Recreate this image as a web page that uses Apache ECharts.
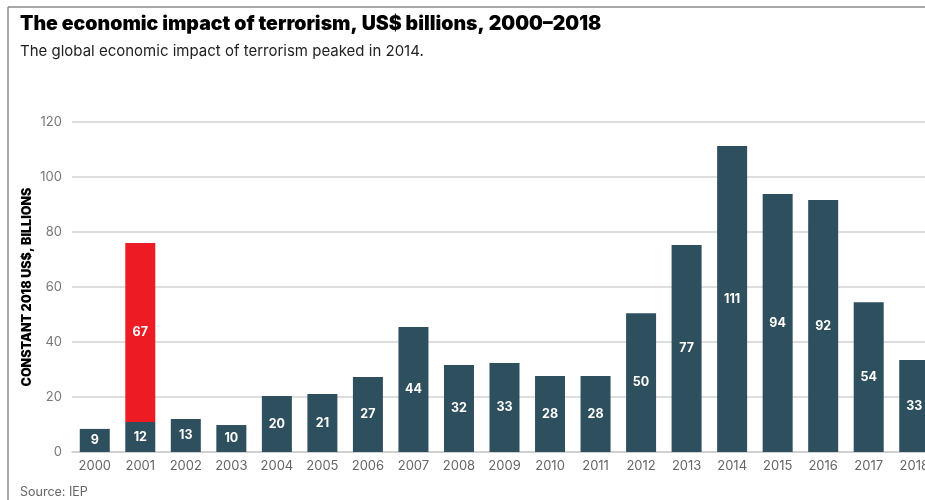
<!DOCTYPE html>
<html>
<head>
<meta charset="utf-8">
<script src="https://cdn.jsdelivr.net/npm/echarts@6/dist/echarts.min.js"></script>
<style>
  html, body { margin: 0; padding: 0; background: #fff; overflow: hidden; }
  #chart { width: 937px; height: 500px; }
</style>
</head>
<body>
<div id="chart"></div>
<script>
// years on the x axis
const years = ['2000','2001','2002','2003','2004','2005','2006','2007','2008','2009',
  '2010','2011','2012','2013','2014','2015','2016','2017','2018'];
// bar heights
const baseValues = [8.4, 10.9, 12, 9.8, 20.4, 21.1, 27.3, 45.5, 31.6, 32.4,
  27.6, 27.6, 50.5, 75.3, 111.3, 93.8, 91.6, 54.5, 33.5];
// printed labels on the bars
const baseLabels = [9, 12, 13, 10, 20, 21, 27, 44, 32, 33, 28, 28, 50, 77, 111, 94, 92, 54, 33];
// 2001 extra (September 11) segment
const extraValues = [null, 65.1, null, null, null, null, null, null, null, null,
  null, null, null, null, null, null, null, null, null];
const extraLabels = ['', 67, '', '', '', '', '', '', '', '', '', '', '', '', '', '', '', '', ''];
const yTicks = { min: 0, max: 120, interval: 20 };

let myChart = echarts.init(document.getElementById('chart'));
let labelStyle = {
  show: true,
  position: 'inside',
  color: '#ffffff',
  fontFamily: 'Inter',
  fontWeight: 'bold',
  fontSize: 12.5
};
let option = {
  animation: false,
  backgroundColor: '#ffffff',
  graphic: [
    { type: 'line', shape: { x1: 8, y1: 7, x2: 937, y2: 7 }, style: { stroke: '#8a8a8a', lineWidth: 1.5 } },
    { type: 'line', shape: { x1: 8, y1: 7, x2: 8, y2: 500 }, style: { stroke: '#8a8a8a', lineWidth: 1.5 } },
    { type: 'text', left: 20, top: 14, style: {
        text: 'The economic impact of terrorism, US$ billions, 2000–2018',
        fontFamily: 'Inter', fontWeight: 900, fontSize: 19.5, fill: '#000' } },
    { type: 'text', left: 20, top: 44, style: {
        text: 'The global economic impact of terrorism peaked in 2014.',
        fontFamily: 'Inter', fontSize: 15, fill: '#222' } },
    { type: 'text', left: 20, top: 486, style: {
        text: 'Source: IEP', fontFamily: 'Inter', fontSize: 12.5, fill: '#666' } }
  ],
  grid: {
    left: 72,
    right: 0,
    top: 122,
    bottom: 48
  },
  xAxis: {
    type: 'category',
    data: years,
    axisTick: { show: false },
    axisLine: { lineStyle: { color: '#cccccc', width: 1.5 } },
    axisLabel: {
      color: '#666',
      fontFamily: 'Inter',
      fontSize: 13,
      margin: 8,
      interval: 0
    }
  },
  yAxis: {
    type: 'value',
    min: yTicks.min,
    max: yTicks.max,
    interval: yTicks.interval,
    name: 'CONSTANT 2018 US$, BILLIONS',
    nameLocation: 'middle',
    nameRotate: 90,
    nameGap: 38,
    nameMoveOverlap: false,
    nameTextStyle: {
      color: '#000',
      fontFamily: 'Inter',
      fontWeight: 900,
      fontSize: 12.5
    },
    axisLine: { show: false },
    axisTick: { show: false },
    axisLabel: {
      color: '#777',
      fontFamily: 'Inter',
      fontSize: 13,
      margin: 10
    },
    splitLine: { lineStyle: { color: '#d3d3d3', width: 1.5 } }
  },
  series: [
    {
      type: 'bar',
      stack: 'total',
      data: baseValues,
      barWidth: 30,
      itemStyle: { color: '#2e4f5e' },
      label: Object.assign({}, labelStyle, {
        formatter: p => baseLabels[p.dataIndex]
      })
    },
    {
      type: 'bar',
      stack: 'total',
      data: extraValues,
      barWidth: 30,
      itemStyle: { color: '#ed1c24' },
      label: Object.assign({}, labelStyle, {
        formatter: p => extraLabels[p.dataIndex]
      })
    }
  ]
};
myChart.setOption(option);
</script>
</body>
</html>
